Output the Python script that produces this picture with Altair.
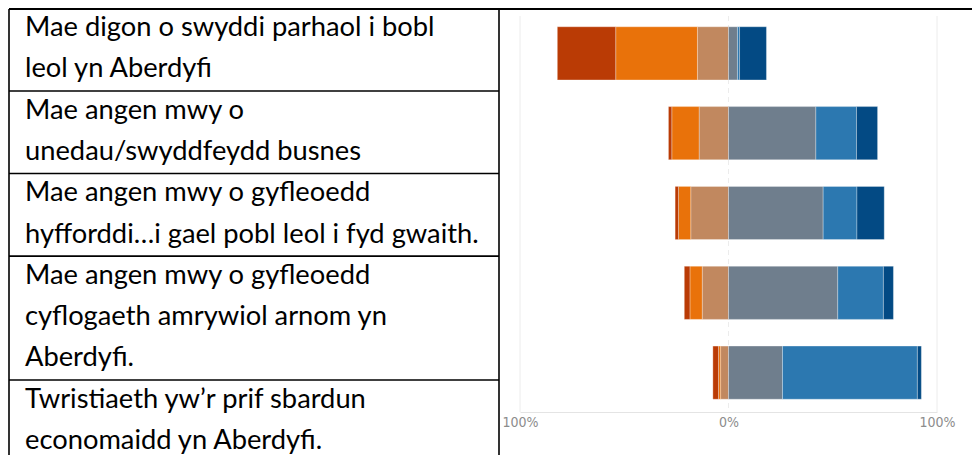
import altair as alt
import pandas as pd

# ---------------- data ----------------
statements = [
    "Mae digon o swyddi parhaol i bobl leol yn Aberdyfi",
    "Mae angen mwy o unedau/swyddfeydd busnes",
    "Mae angen mwy o gyfleoedd hyfforddi…i gael pobl leol i fyd gwaith.",
    "Mae angen mwy o gyfleoedd cyflogaeth amrywiol arnom yn Aberdyfi.",
    "Twristiaeth yw’r prif sbardun economaidd yn Aberdyfi.",
]
table_lines = [
    ["Mae digon o swyddi parhaol i bobl", "leol yn Aberdyfi"],
    ["Mae angen mwy o", "unedau/swyddfeydd busnes"],
    ["Mae angen mwy o gyfleoedd", "hyfforddi…i gael pobl leol i fyd gwaith."],
    ["Mae angen mwy o gyfleoedd", "cyflogaeth amrywiol arnom yn", "Aberdyfi."],
    ["Twristiaeth yw’r prif sbardun", "economaidd yn Aberdyfi."],
]
categories = ["Anghytuno'n gryf", "Anghytuno", "Anghytuno ychydig",
              "Cytuno ychydig", "Cytuno", "Cytuno'n gryf"]
colors = ["#BA3B05", "#E9720A", "#C1885F", "#6F7E8D", "#2C78B0", "#034A84"]

strongly_disagree = [28.0, 1.6, 1.6, 2.7, 2.7]
disagree = [39.2, 13.1, 5.9, 5.9, 1.0]
slightly_disagree = [14.9, 14.1, 18.1, 12.6, 3.8]
slightly_agree = [4.3, 41.9, 45.4, 52.4, 25.9]
agree = [1.0, 19.5, 16.2, 21.9, 64.7]
strongly_agree = [12.9, 10.1, 13.1, 4.8, 1.9]

axis_values = [-1, 0, 1]
axis_labels = ["100%", "0%", "100%"]

# ---------------- build tables ----------------
rows = []
for i, s in enumerate(statements):
    left = 0.0
    for cat, vals in [(categories[2], slightly_disagree), (categories[1], disagree),
                      (categories[0], strongly_disagree)]:
        v = vals[i] / 100.0
        rows.append({"statement": s, "category": cat, "start": left, "end": left - v})
        left -= v
    right = 0.0
    for cat, vals in [(categories[3], slightly_agree), (categories[4], agree),
                      (categories[5], strongly_agree)]:
        v = vals[i] / 100.0
        rows.append({"statement": s, "category": cat, "start": right, "end": right + v})
        right += v
bar_df = pd.DataFrame(rows)

text_rows = []
border_rows = []
k = 0
for r, lines in enumerate(table_lines):
    for ln in lines:
        text_rows.append({"idx": k, "line": ln})
        k += 1
    border_rows.append({"pos": k - 1 + 0.33})
text_df = pd.DataFrame(text_rows)
border_df = pd.DataFrame(border_rows[:-1])
grid_df = pd.DataFrame({"v": axis_values})

label_expr = " : ".join(
    f"datum.value == {v} ? '{l}'" for v, l in zip(axis_values, axis_labels)
) + " : ''"

xscale = alt.Scale(domain=[-1, 1], nice=False, zero=False)

grid = alt.Chart(grid_df).mark_rule(color="#ececec", strokeWidth=1).encode(
    x=alt.X("v:Q", scale=xscale,
            axis=alt.Axis(values=axis_values, labelExpr=label_expr, grid=False,
                          ticks=False, domainColor="#e4e4e4", labelColor="#8c8c8c",
                          labelFont="'DejaVu Sans Condensed', 'Liberation Sans Narrow', 'Liberation Sans', sans-serif",
                          labelFontSize=14, labelPadding=3, labelFlush=False,
                          title=None, offset=2)),
    y=alt.value(0),
    y2=alt.value(396),
    strokeDash=alt.condition(alt.datum.v == 0, alt.value([5, 4]), alt.value([1, 0])),
)

bars = alt.Chart(bar_df).mark_bar(stroke="white", strokeWidth=0.6, strokeOpacity=0.5).encode(
    x=alt.X("start:Q", scale=xscale),
    x2="end:Q",
    y=alt.Y("statement:N", sort=statements,
            scale=alt.Scale(paddingInner=0.334, paddingOuter=0.135), axis=None),
    color=alt.Color("category:N", scale=alt.Scale(domain=categories, range=colors),
                    legend=None),
)

line_scale = alt.Scale(domain=[0, 10], range=[20, 433], nice=False, zero=False)

text = alt.Chart(text_df).mark_text(
    align="left", baseline="alphabetic", font="Lato", fontSize=27.3, color="#000000"
).encode(
    x=alt.value(-495),
    y=alt.Y("idx:Q", scale=line_scale, axis=None),
    text="line:N",
)

row_borders = alt.Chart(border_df).mark_rule(color="#000000", strokeWidth=1.6).encode(
    y=alt.Y("pos:Q", scale=line_scale, axis=None),
    x=alt.value(-511),
    x2=alt.value(-21),
)

one = pd.DataFrame({"a": [0]})
vert_left = alt.Chart(one).mark_rule(color="#000000", strokeWidth=1.6).encode(
    x=alt.value(-511), y=alt.value(-7), y2=alt.value(447))
vert_mid = alt.Chart(one).mark_rule(color="#000000", strokeWidth=1.6).encode(
    x=alt.value(-21), y=alt.value(-7), y2=alt.value(447))
top_border = alt.Chart(one).mark_rule(color="#000000", strokeWidth=2).encode(
    x=alt.value(-511), x2=alt.value(460), y=alt.value(-7))

chart_part = alt.layer(grid, bars)
table_part = alt.layer(text, row_borders)

chart = alt.layer(chart_part, table_part, vert_left, vert_mid, top_border).resolve_scale(
    y="independent"
).properties(
    width=417,
    height=394,
    padding={"left": 512, "top": 8, "right": 35, "bottom": 45},
    autosize=alt.AutoSizeParams(type="none"),
).configure_view(stroke=None)

chart.save("out.html", embed_options={"renderer": "svg", "actions": False})
